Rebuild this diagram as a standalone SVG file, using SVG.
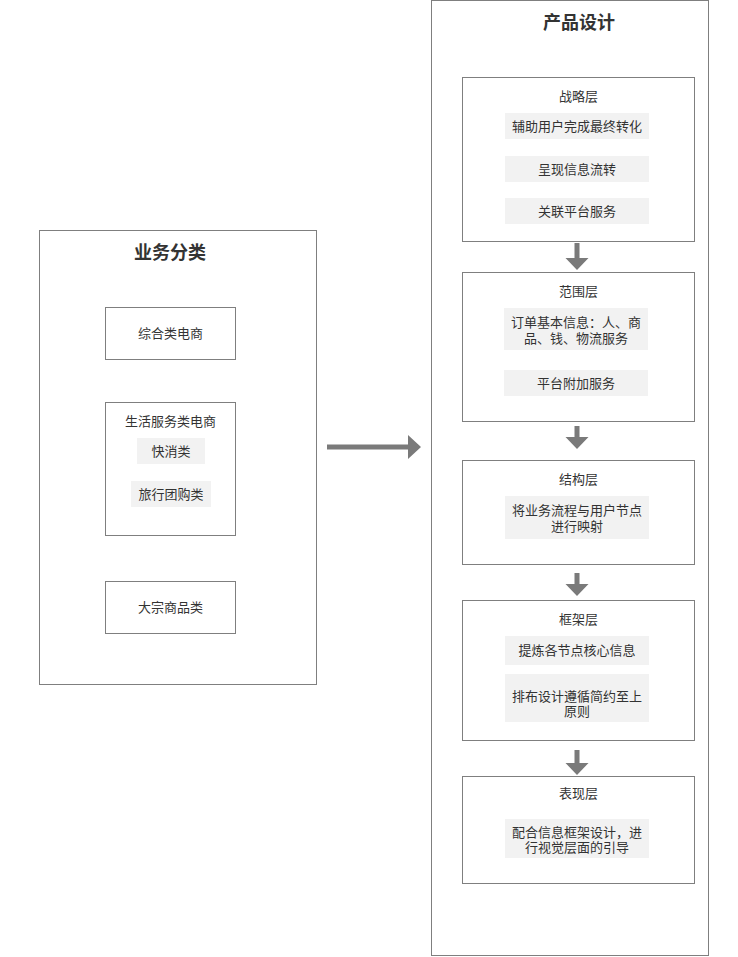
<svg xmlns="http://www.w3.org/2000/svg" width="738" height="957" viewBox="0 0 738 957">
<style>
.box{fill:#fff;stroke:#7f7f7f;stroke-width:1}
.tag{fill:#f2f2f2;stroke:none}
.t{font-family:"Noto Sans CJK SC","Noto Sans",sans-serif;font-size:13px;fill:#333;text-anchor:middle}
.h{font-family:"Noto Sans CJK SC","Noto Sans",sans-serif;font-size:18px;font-weight:bold;fill:#333;text-anchor:middle}
.arr{fill:#7a7a7a}
</style>
<rect width="738" height="957" fill="#fff"/>
<g id="business">
<rect class="box" x="39.5" y="230.5" width="277" height="454"/>
<text class="h" x="170" y="259">业务分类</text>
</g>
<g id="b1">
<rect class="box" x="105.5" y="307.5" width="130" height="52"/>
<text class="t" x="170.5" y="338">综合类电商</text>
</g>
<g id="b2">
<rect class="box" x="105.5" y="402.5" width="130" height="133"/>
<text class="t" x="170.5" y="426">生活服务类电商</text>
<rect class="tag" x="137" y="438" width="68" height="26"/>
<text class="t" x="171" y="456">快消类</text>
<rect class="tag" x="131" y="481" width="80" height="26"/>
<text class="t" x="171" y="499">旅行团购类</text>
</g>
<g id="b3">
<rect class="box" x="105.5" y="581.5" width="130" height="52"/>
<text class="t" x="170.5" y="612">大宗商品类</text>
</g>
<g id="product">
<rect class="box" x="431.5" y="0.5" width="277" height="955"/>
<text class="h" x="579" y="29">产品设计</text>
</g>
<g id="p1">
<rect class="box" x="462.5" y="77.5" width="232" height="164"/>
<text class="t" x="578.5" y="101">战略层</text>
<rect class="tag" x="505" y="113" width="144" height="26"/>
<text class="t" x="577" y="131">辅助用户完成最终转化</text>
<rect class="tag" x="505" y="156" width="144" height="26"/>
<text class="t" x="577" y="174">呈现信息流转</text>
<rect class="tag" x="505" y="198" width="144" height="26"/>
<text class="t" x="577" y="216">关联平台服务</text>
</g>
<g id="p2">
<rect class="box" x="462.5" y="272.5" width="232" height="149"/>
<text class="t" x="578.5" y="296">范围层</text>
<rect class="tag" x="504" y="308" width="144" height="42"/>
<text class="t" x="576" y="327">订单基本信息：人、商<tspan x="576" y="343">品、钱、物流服务</tspan></text>
<rect class="tag" x="504" y="370" width="144" height="26"/>
<text class="t" x="576" y="388">平台附加服务</text>
</g>
<g id="p3">
<rect class="box" x="462.5" y="460.5" width="232" height="104"/>
<text class="t" x="578.5" y="484">结构层</text>
<rect class="tag" x="505" y="496" width="144" height="43"/>
<text class="t" x="577" y="515">将业务流程与用户节点<tspan x="577" y="531">进行映射</tspan></text>
</g>
<g id="p4">
<rect class="box" x="462.5" y="600.5" width="232" height="140"/>
<text class="t" x="578.5" y="624">框架层</text>
<rect class="tag" x="505" y="636" width="144" height="29"/>
<text class="t" x="577" y="655">提炼各节点核心信息</text>
<rect class="tag" x="505" y="674" width="144" height="48"/>
<text class="t" x="577" y="701">排布设计遵循简约至上<tspan x="577" y="716">原则</tspan></text>
</g>
<g id="p5">
<rect class="box" x="462.5" y="776.5" width="232" height="107"/>
<text class="t" x="578.5" y="798">表现层</text>
<rect class="tag" x="505" y="819" width="144" height="39"/>
<text class="t" x="577" y="837">配合信息框架设计，进<tspan x="577" y="852">行视觉层面的引导</tspan></text>
</g>
<g id="connectors">
<polygon class="arr" points="327,444.5 408,444.5 408,435 421,447 408,459 408,449.5 327,449.5"/>
<polygon class="arr" points="574.5,243 579.5,243 579.5,258 588.5,258 577,270 565.5,258 574.5,258"/>
<polygon class="arr" points="574.5,426 579.5,426 579.5,437 588.5,437 577,449 565.5,437 574.5,437"/>
<polygon class="arr" points="574.5,573 579.5,573 579.5,584 588.5,584 577,596 565.5,584 574.5,584"/>
<polygon class="arr" points="574.5,750 579.5,750 579.5,763 588.5,763 577,775 565.5,763 574.5,763"/>
</g>
</svg>
